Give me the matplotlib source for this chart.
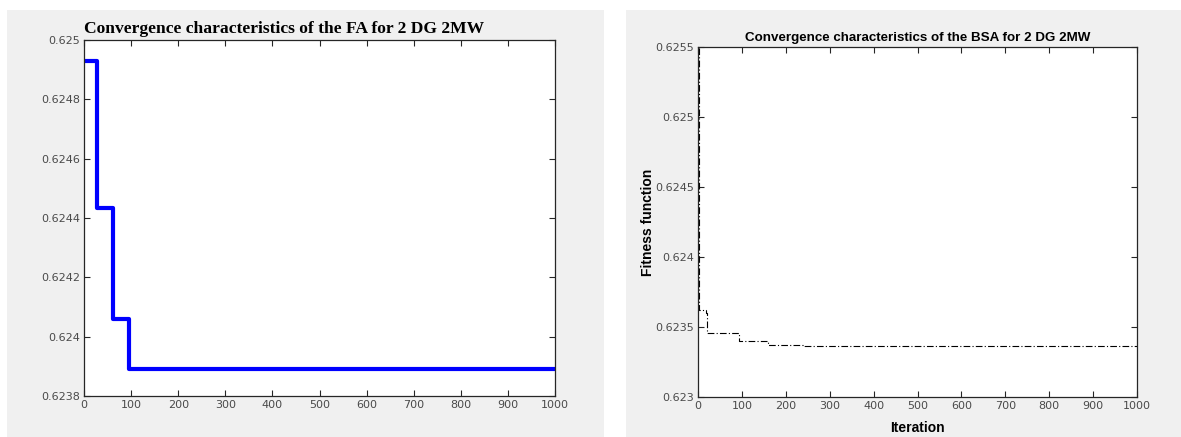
import matplotlib
matplotlib.use('Agg')
import matplotlib.pyplot as plt
from matplotlib.patches import Rectangle

# FA convergence (step change points)
fa_iter = [0, 27, 62, 95, 1000]
fa_value = [0.624928, 0.624433, 0.62406, 0.62389, 0.62389]
fa_yticks = [0.6238, 0.6240, 0.6242, 0.6244, 0.6246, 0.6248, 0.6250]
fa_ylabels = ['0.6238', '0.624', '0.6242', '0.6244', '0.6246', '0.6248', '0.625']

# BSA convergence (step change points)
bsa_iter = [1, 2, 3, 18, 21, 93, 160, 240, 1000]
bsa_value = [0.6260, 0.62380, 0.62362, 0.62360, 0.623459, 0.62340, 0.62337, 0.623364, 0.623364]
bsa_yticks = [0.6230, 0.6235, 0.6240, 0.6245, 0.6250, 0.6255]
bsa_ylabels = ['0.623', '0.6235', '0.624', '0.6245', '0.625', '0.6255']

xticks = list(range(0, 1001, 100))

W, H = 1181, 437
fig = plt.figure(figsize=(W / 100, H / 100), dpi=100)
fig.patch.set_facecolor('white')

# grey figure panels like the matlab windows
for x0, x1 in [(7, 604), (626, 1181)]:
    fig.patches.append(Rectangle((x0 / W, 0), (x1 - x0) / W, (H - 10) / H,
                                 transform=fig.transFigure, facecolor='#f0f0f0',
                                 edgecolor='none', zorder=-5))

tick_col = '#4a4a4a'

def style(ax):
    ax.set_facecolor('white')
    for s in ax.spines.values():
        s.set_color('#262626')
        s.set_linewidth(0.9)
    ax.tick_params(direction='in', length=4, width=0.8, colors='#262626',
                   top=True, right=True, labelsize=8, labelcolor=tick_col, pad=3)
    ax.set_xlim(0, 1000)
    ax.set_xticks(xticks)

ax1 = fig.add_axes([84 / W, (H - 396) / H, 471 / W, 356 / H])
style(ax1)
ax1.step(fa_iter, fa_value, where='post', color='#0000ff', linewidth=3)
ax1.set_ylim(0.6238, 0.6250)
ax1.set_yticks(fa_yticks)
ax1.set_yticklabels(fa_ylabels)
ax1.text(0.0, 1.008, 'Convergence characteristics of the FA for 2 DG 2MW',
         transform=ax1.transAxes, ha='left', va='bottom',
         fontfamily='Liberation Serif', fontweight='bold', fontsize=12.6)

ax2 = fig.add_axes([698 / W, (H - 397) / H, 439 / W, 350 / H])
style(ax2)
ax2.step(bsa_iter, bsa_value, where='post', color='black', linewidth=0.8,
         linestyle=(0, (6, 2, 1, 2)))
ax2.set_ylim(0.6230, 0.6255)
ax2.set_yticks(bsa_yticks)
ax2.set_yticklabels(bsa_ylabels)
ax2.set_title('Convergence characteristics of the BSA for 2 DG 2MW',
              fontfamily='Liberation Sans', fontweight='bold', fontsize=9.6, pad=4)
ax2.set_xlabel('Iteration', fontfamily='Liberation Sans', fontweight='bold',
               fontsize=10, labelpad=7)
ax2.set_ylabel('Fitness function', fontfamily='Liberation Sans', fontweight='bold',
               fontsize=10, labelpad=0)

fig.savefig('out.png', dpi=100)
